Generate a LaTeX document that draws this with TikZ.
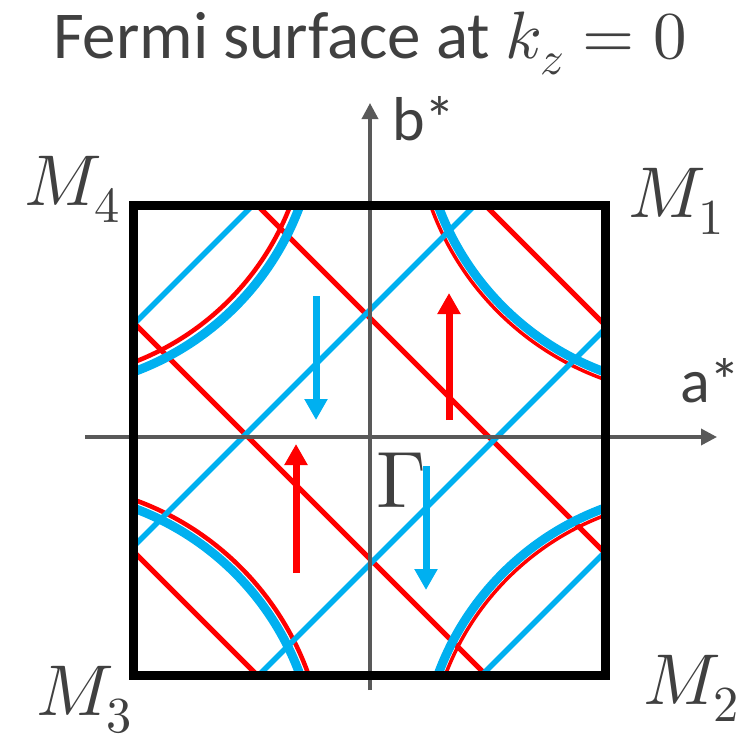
\documentclass[tikz,border=0pt]{standalone}
\usepackage{fontspec}
\usepackage{unicode-math}
\setmainfont{Carlito}
\usetikzlibrary{arrows.meta}
\definecolor{fsred}{HTML}{FF0000}
\definecolor{fsblue}{HTML}{00B0F0}
\definecolor{axisgray}{HTML}{595959}
\definecolor{textgray}{HTML}{404040}

\begin{document}
\begin{tikzpicture}[x=1pt, y=-1pt,
    redband/.style={draw=fsred, line width=5pt},
    blueband/.style={draw=fsblue, line width=5.5pt},
    pocket/.style={draw=fsblue, line width=9pt},
    spin/.style={line width=7pt, -{Triangle[width=22pt, length=21pt]}},
    axis/.style={draw=axisgray, line width=3.5pt, -{Triangle[width=16pt, length=16pt]}},
    lbl/.style={text=textgray, inner sep=0pt},
    corner/.style={lbl, font=\fontsize{72}{80}\selectfont},
  ]
  \useasboundingbox (0,0) rectangle (743,744);

  % ---- bands inside the zone ----
  \begin{scope}
    \clip (133,205) rectangle (605,675);
    % red sheets, running down-right
    \foreach \cx/\cy in {489/437, 248/437, 545/265, 194/612}
      \draw[redband] (\cx-300,\cy-300) -- (\cx+300,\cy+300);
    % red pockets round M4, M1, M3, M2
    \draw[redband, line width=4.5pt] (37,109) circle[radius=271pt];
    \draw[redband, line width=3.5pt] (701,109) circle[radius=287pt];
    \draw[redband, line width=4.5pt] (37,771) circle[radius=288pt];
    \draw[redband, line width=3.5pt] (701,771) circle[radius=273pt];
    % blue sheets, running up-right
    \foreach \cx/\cy in {243/437, 497/437, 137/321, 600/557}
      \draw[blueband] (\cx-300,\cy+300) -- (\cx+300,\cy-300);
    % blue pockets
    \foreach \cx/\cy in {37/109, 701/109, 37/771, 701/771}
      \draw[pocket] (\cx,\cy) circle[radius=280pt];
  \end{scope}

  % ---- axes and zone boundary ----
  \coordinate (G) at (370,437);
  \draw[axis] (85,437) -- (717,437);
  \draw[axis] (370,690) -- (370,103);
  \draw[line width=9pt] (133,205) rectangle (605,675);

  % ---- spin arrows ----
  \draw[spin, fsblue] (316,296) -- (316,420);
  \draw[spin, fsred]  (449,420) -- (449,293);
  \draw[spin, fsred]  (296,573) -- (296,444);
  \draw[spin, fsblue] (426,466) -- (426,590);

  % ---- labels ----
  \node[lbl, font=\fontsize{67}{72}\selectfont, anchor=base] (title) at (370,58)
    {Fermi surface at $k_z = 0$};
  \node[lbl, font=\fontsize{62}{68}\selectfont, anchor=base west] (bstar) at (392,140) {b*};
  \node[lbl, font=\fontsize{62}{68}\selectfont, anchor=base west] (astar) at (680,402) {a*};
  \node[corner, anchor=base east] (M4) at (120,205) {$M_4$};
  \node[corner, anchor=base west] (M1) at (628,217) {$M_1$};
  \node[corner, anchor=base east] (M3) at (132,715) {$M_3$};
  \node[corner, anchor=base west] (M2) at (643,704) {$M_2$};
  \node[corner, font=\fontsize{80}{88}\selectfont, anchor=base west] (Gam) at (376,507) {$\Gamma$};
\end{tikzpicture}
\end{document}
